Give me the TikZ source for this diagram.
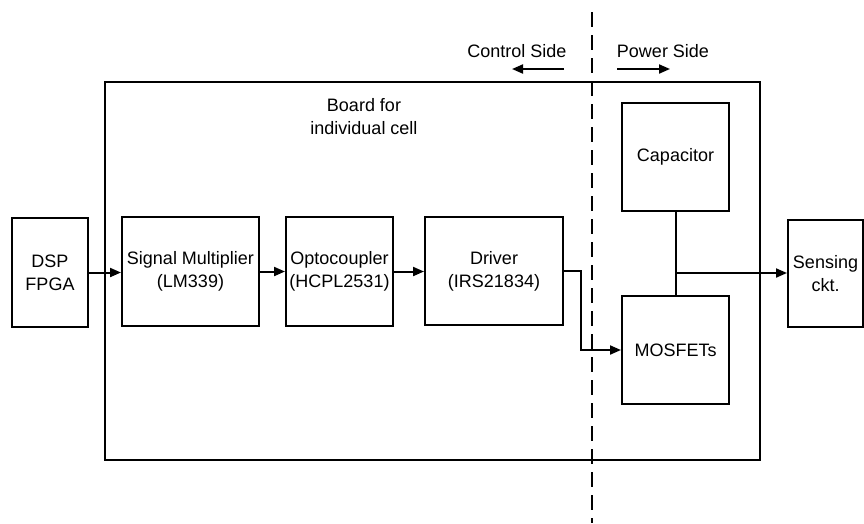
\documentclass[tikz,border=0pt]{standalone}
\usepackage{fontspec}
\setmainfont{Liberation Sans}
\usetikzlibrary{arrows.meta}
\begin{document}
\begin{tikzpicture}[x=1pt,y=-1pt,
  every node/.style={font=\fontsize{18}{23}\selectfont},
  blk/.style={draw, line width=2pt, align=center, inner sep=0pt},
  conn/.style={line width=2pt, -{Triangle[length=11pt,width=9pt]}},
  wire/.style={line width=2pt},
  lbl/.style={align=center, inner sep=0pt}]
\useasboundingbox (0,0) rectangle (864,523);
% board
\draw[line width=1.6pt] (105,82) rectangle (760,460);
\node[lbl] (board) at (364,117) {Board for\\individual cell};
% dashed separator
\coordinate (dtop) at (592,12);
\coordinate (dbot) at (592,523);
\draw[line width=2pt, dash pattern=on 15pt off 8pt] (dtop) -- (dbot);
% side labels
\node[lbl] (ctrl) at (517,51) {Control Side};
\node[lbl] (pow) at (663,51) {Power Side};
\coordinate (ca1) at (564,69);
\coordinate (ca2) at (512,69);
\coordinate (pa1) at (617,69);
\coordinate (pa2) at (670,69);
\draw[conn] (ca1) -- (ca2);
\draw[conn] (pa1) -- (pa2);
% blocks
\node[blk, minimum width=76pt, minimum height=109pt] (dsp) at (50,272.5) {DSP\\FPGA};
\node[blk, minimum width=137pt, minimum height=109pt] (sm) at (190.5,271.5) {Signal Multiplier\\(LM339)};
\node[blk, minimum width=107pt, minimum height=109pt] (opto) at (339.5,271.5) {Optocoupler\\(HCPL2531)};
\node[blk, minimum width=138pt, minimum height=108pt] (drv) at (494,271) {Driver\\(IRS21834)};
\node[blk, minimum width=107pt, minimum height=108pt] (cap) at (675.5,157) {Capacitor};
\node[blk, minimum width=107pt, minimum height=108pt] (mos) at (675.5,350) {MOSFETs};
\node[blk, minimum width=75pt, minimum height=107pt] (sens) at (825.5,273.5) {Sensing\\ckt.};
% connectors
\draw[conn] (dsp.east) -- (dsp.east -| sm.west);
\draw[conn] (sm.east) -- (sm.east -| opto.west);
\draw[conn] (opto.east) -- (opto.east -| drv.west);
\draw[conn] (drv.east) -- ++(17,0) |- (mos.west);
\draw[wire] (cap.south) -- (mos.north);
\coordinate (j) at (675.5,273);
\draw[conn] (j) -- (j -| sens.west);
\end{tikzpicture}
\end{document}
